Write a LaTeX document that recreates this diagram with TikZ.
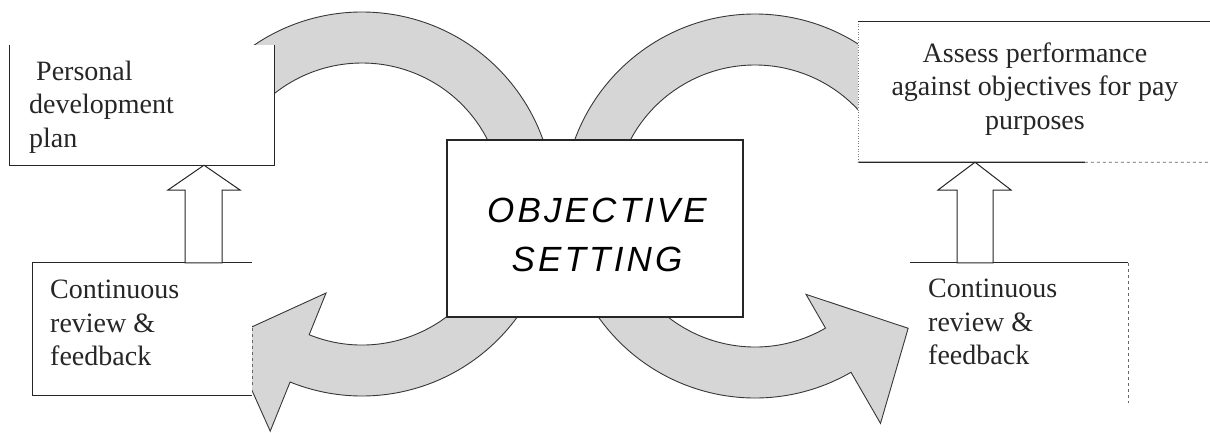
\documentclass[tikz,border=0pt]{standalone}
\usepackage{fontspec}
\setmainfont{Liberation Serif}
\newfontfamily\objfont[LetterSpace=9]{Liberation Sans}
\usetikzlibrary{calc}
\definecolor{arrowfill}{RGB}{214,214,214}
\definecolor{arrowline}{RGB}{55,55,55}
\tikzset{
  bigarrow/.style={fill=arrowfill, draw=arrowline, line width=0.9pt, line join=miter},
  boxbg/.style={fill=white, draw=none, inner sep=0pt},
  boxline/.style={draw=black!85, line width=1.2pt},
  faintline/.style={draw=black!60, line width=0.7pt, dashed},
  uparrow/.style={fill=white, draw=black!85, line width=1pt, line join=miter},
  label/.style={inner sep=0pt, font=\fontsize{28}{33.5}\selectfont, text=black!85},
  objlabel/.style={inner sep=0pt, align=center, font=\objfont\itshape\fontsize{35}{49}\selectfont}
}
\begin{document}
\begin{tikzpicture}[x=1pt,y=1pt]
\useasboundingbox (0,0) rectangle (1210,432);
\fill[white] (0,0) rectangle (1210,432);

% centres of the two curved arrows
\coordinate (CL) at (362,228);
\coordinate (CR) at (755,226);

% left curved arrow
\path[bigarrow] ($(CL)+(132:192pt)$) arc[start angle=132,end angle=-112,radius=192pt]
  -- ($(CL)+(-112:245pt)$) -- ($(CL)+(-135:189pt)$) -- ($(CL)+(-112:96pt)$)
  -- ($(CL)+(-112:141pt)$) arc[start angle=-112,end angle=132,radius=141pt] -- cycle;

% right curved arrow
\path[bigarrow] ($(CR)+(40:192pt)$) arc[start angle=40,end angle=300,radius=192pt]
  -- ($(CR)+(300:251pt)$) -- ($(CR)+(321.4:196pt)$) -- ($(CR)+(300:102pt)$)
  -- ($(CR)+(300:141pt)$) arc[start angle=300,end angle=40,radius=141pt] -- cycle;

% boxes (white backgrounds)
\node[boxbg, minimum width=264pt, minimum height=120pt] (pdp) at (142,327) {};
\node[boxbg, minimum width=360pt, minimum height=140pt] (apo) at (1038,340) {};
\node[boxbg, minimum width=219pt, minimum height=132pt] (crl) at (142.5,103) {};
\node[boxbg, minimum width=218pt, minimum height=140pt] (crr) at (1019,99) {};
\node[boxbg, draw=black!85, line width=1.2pt, minimum width=296pt, minimum height=177pt] (obj) at (595,203.5) {};

% visible box edges
\draw[boxline] (pdp.north west) -- (pdp.south west) -- (pdp.south east) -- (pdp.north east);
\draw[boxline] (apo.north west) -- (apo.north east);
\draw[boxline] (apo.south west) -- ($(apo.south west)!0.63!(apo.south east)$);
\draw[faintline] ($(apo.south west)!0.63!(apo.south east)$) -- (apo.south east);
\draw[draw=black!50, line width=0.6pt, dotted] (apo.south west) -- (apo.north west);
\draw[boxline] (crl.north east) -- (crl.north west) -- (crl.south west) -- (crl.south east);
\draw[faintline] ($(crl.south east)+(0,10)$) -- ($(crl.south east)+(0,70)$);
\draw[boxline] (crr.north west) -- (crr.north east);
\draw[faintline] (crr.north east) -- (crr.south east);

% hollow up arrows
\path[uparrow] (185,0 |- crl.north) -- (185,242) -- (168,242) -- (204,0 |- pdp.south)
  -- (240,242) -- (222,242) -- (222,0 |- crl.north) -- cycle;
\path[uparrow] (957,0 |- crr.north) -- (957,242) -- (938,242) -- (975,0 |- apo.south)
  -- (1011,242) -- (993,242) -- (993,0 |- crr.north) -- cycle;

% texts
\node[label, align=left, anchor=west] (pdptext) at (29,325) {\hspace*{7pt}Personal\\development\\plan};
\node[label, align=center] (apotext) at (1035,343) {Assess performance\\against objectives for pay\\purposes};
\node[label, align=left, anchor=west] (crltext) at (50,109) {Continuous\\review \&\\feedback};
\node[label, align=left, anchor=west] (crrtext) at (928,110) {Continuous\\review \&\\feedback};
\node[objlabel] (objtext) at (597,197) {OBJECTIVE\\SETTING};
\end{tikzpicture}
\end{document}
